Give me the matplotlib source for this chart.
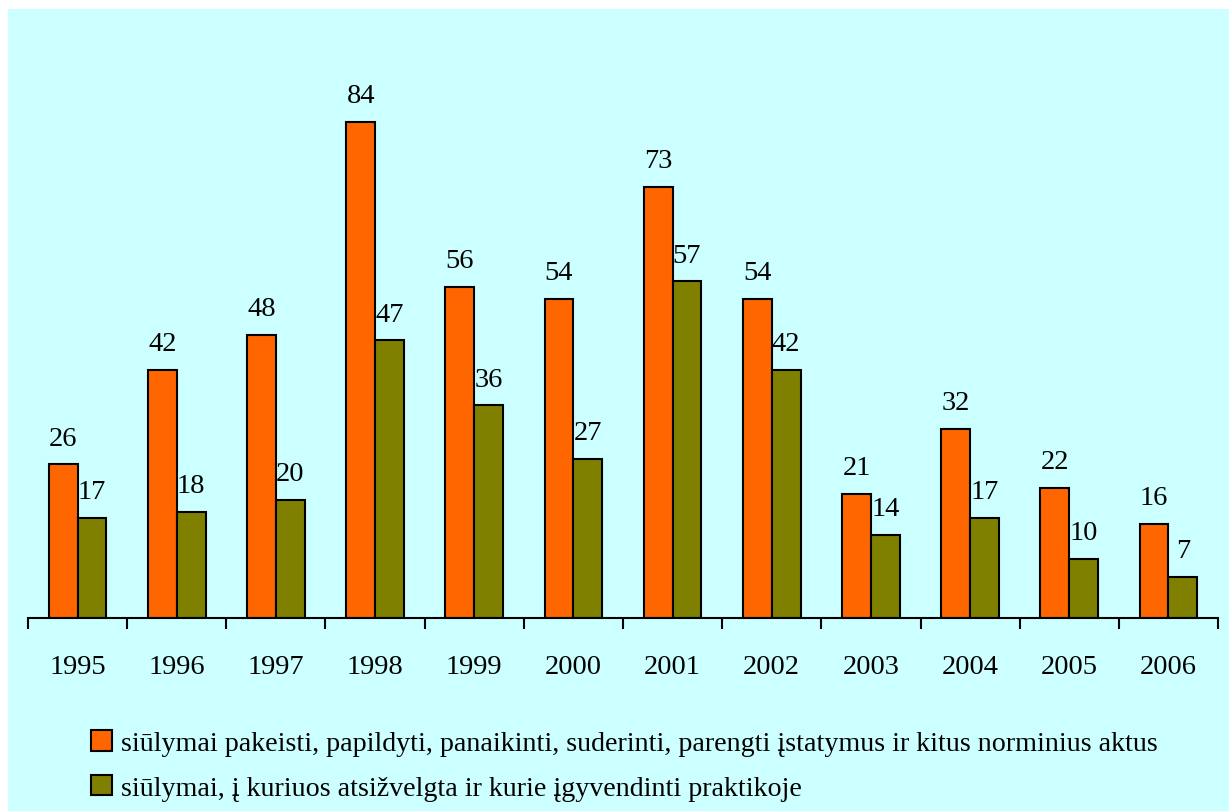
import numpy as np
import matplotlib
matplotlib.use("Agg")
import matplotlib.pyplot as plt
from matplotlib.patches import Rectangle, Patch

plt.rcParams['font.family'] = ['Liberation Serif', 'DejaVu Serif']

# duomenys
years = ['1995', '1996', '1997', '1998', '1999', '2000',
         '2001', '2002', '2003', '2004', '2005', '2006']
pasiulymai = [26, 42, 48, 84, 56, 54, 73, 54, 21, 32, 22, 16]
atsizvelgta = [17, 18, 20, 47, 36, 27, 57, 42, 14, 17, 10, 7]
label1 = 'siūlymai pakeisti, papildyti, panaikinti, suderinti, parengti įstatymus ir kitus norminius aktus'
label2 = 'siūlymai, į kuriuos atsižvelgta ir kurie įgyvendinti praktikoje'

orange = '#FF6600'
olive = '#808000'
bg = '#CCFFFF'
fs = 20.5

fig = plt.figure(figsize=(12.29, 8.12), dpi=100)
fig.patch.set_facecolor('white')
fig.patches.append(Rectangle((8 / 1229, 0), 1, 1 - 10 / 812, transform=fig.transFigure,
                             facecolor=bg, edgecolor='none', zorder=-10))

ax = fig.add_axes([28 / 1229, 193 / 812, 1190 / 1229, (619 - 87.6) / 812])
ax.set_facecolor('none')

x = np.arange(len(years))
w = 0.29
ax.bar(x - w / 2, pasiulymai, w, color=orange, edgecolor='black', linewidth=1.5)
ax.bar(x + w / 2, atsizvelgta, w, color=olive, edgecolor='black', linewidth=1.5)

for xi, v in zip(x, pasiulymai):
    ax.annotate(str(v), (xi - w / 2, v), xytext=(0, 10), textcoords='offset points',
                ha='center', va='bottom', fontsize=fs)
for xi, v in zip(x, atsizvelgta):
    ax.annotate(str(v), (xi + w / 2, v), xytext=(0, 10), textcoords='offset points',
                ha='center', va='bottom', fontsize=fs)

ax.set_xlim(-0.5, len(years) - 0.5)
ax.set_ylim(0, 90)
ax.set_yticks([])
for s in ['left', 'right', 'top']:
    ax.spines[s].set_visible(False)
ax.spines['bottom'].set_linewidth(1.5)

ax.set_xticks(np.arange(-0.5, len(years), 1))
ax.set_xticklabels([])
ax.tick_params(axis='x', which='major', length=8, width=1.5, direction='out')
ax.set_xticks(x, minor=True)
ax.set_xticklabels(years, minor=True, fontsize=fs)
ax.tick_params(axis='x', which='minor', length=0, pad=26)

handles = [Patch(facecolor=orange, edgecolor='black', linewidth=1.5),
           Patch(facecolor=olive, edgecolor='black', linewidth=1.5)]
fig.legend(handles, [label1, label2], loc='upper left',
           bbox_to_anchor=(80 / 1229, 1 - 720 / 812), frameon=False,
           fontsize=20.2, handlelength=0.75, handleheight=0.75, handletextpad=0.3,
           labelspacing=0.65, borderaxespad=0)

fig.savefig('out.png', dpi=100, facecolor=fig.get_facecolor())
